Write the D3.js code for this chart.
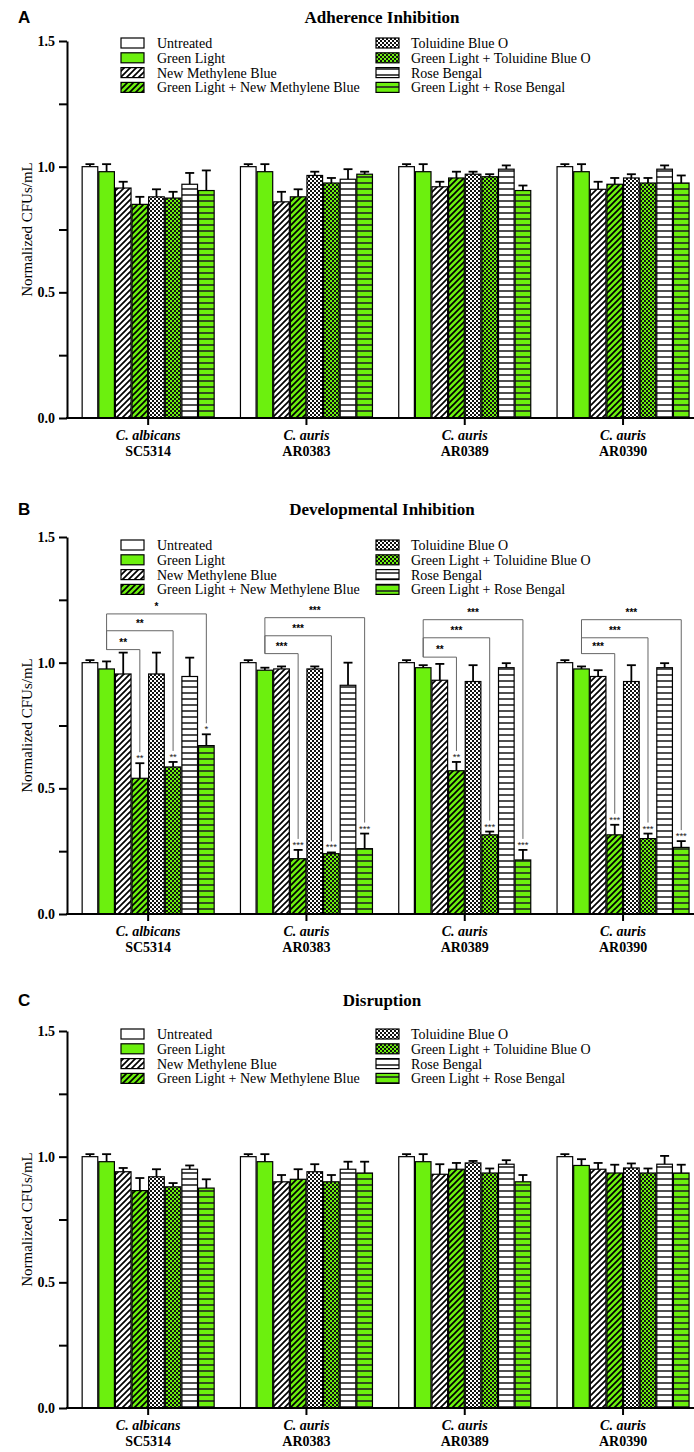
<!DOCTYPE html>
<html>
<head>
<meta charset="utf-8">
<script src="https://cdn.jsdelivr.net/npm/d3@7"></script>
<style>
  body { margin: 0; background: #fff; }
  svg { display: block; }
</style>
</head>
<body>
<svg id="chart" width="694" height="1452"></svg>
<script>
// ---- data ----
const species = ["C. albicans", "C. auris", "C. auris", "C. auris"];
const strains = ["SC5314", "AR0383", "AR0389", "AR0390"];
const treatments = [
  "Untreated", "Green Light", "New Methylene Blue", "Green Light + New Methylene Blue",
  "Toluidine Blue O", "Green Light + Toluidine Blue O", "Rose Bengal", "Green Light + Rose Bengal"
];

// normalized CFUs/mL, one row per strain, one value per treatment
const adherenceMean = [
  [1.00, 0.98, 0.915, 0.85, 0.88, 0.875, 0.93, 0.905],
  [1.00, 0.98, 0.86, 0.88, 0.965, 0.935, 0.95, 0.97],
  [1.00, 0.98, 0.92, 0.955, 0.97, 0.96, 0.99, 0.905],
  [1.00, 0.98, 0.91, 0.93, 0.955, 0.935, 0.99, 0.935]
];
const adherenceErr = [
  [0.01, 0.03, 0.025, 0.03, 0.03, 0.025, 0.045, 0.08],
  [0.01, 0.03, 0.04, 0.03, 0.015, 0.02, 0.04, 0.01],
  [0.01, 0.03, 0.02, 0.025, 0.01, 0.01, 0.015, 0.02],
  [0.01, 0.03, 0.03, 0.025, 0.015, 0.02, 0.015, 0.03]
];
const developmentalMean = [
  [1.00, 0.975, 0.955, 0.54, 0.955, 0.585, 0.945, 0.67],
  [1.00, 0.97, 0.975, 0.22, 0.975, 0.24, 0.91, 0.26],
  [1.00, 0.98, 0.93, 0.57, 0.925, 0.315, 0.98, 0.215],
  [1.00, 0.975, 0.945, 0.315, 0.925, 0.30, 0.98, 0.265]
];
const developmentalErr = [
  [0.01, 0.03, 0.085, 0.06, 0.085, 0.02, 0.075, 0.045],
  [0.01, 0.01, 0.01, 0.035, 0.01, 0.005, 0.09, 0.06],
  [0.01, 0.01, 0.065, 0.035, 0.065, 0.013, 0.018, 0.04],
  [0.01, 0.01, 0.025, 0.04, 0.065, 0.02, 0.018, 0.025]
];
const disruptionMean = [
  [1.00, 0.98, 0.94, 0.865, 0.92, 0.88, 0.95, 0.875],
  [1.00, 0.98, 0.90, 0.91, 0.94, 0.90, 0.95, 0.935],
  [1.00, 0.98, 0.93, 0.95, 0.975, 0.935, 0.97, 0.90],
  [1.00, 0.965, 0.95, 0.935, 0.955, 0.935, 0.97, 0.935]
];
const disruptionErr = [
  [0.01, 0.03, 0.015, 0.05, 0.03, 0.015, 0.015, 0.035],
  [0.01, 0.03, 0.027, 0.04, 0.03, 0.027, 0.03, 0.045],
  [0.01, 0.03, 0.04, 0.025, 0.008, 0.018, 0.016, 0.027],
  [0.01, 0.025, 0.025, 0.033, 0.018, 0.018, 0.033, 0.033]
];

// developmental panel: stars over bars (index 3, 5, 7 vs Green Light)
const sigBars = [3, 5, 7];
const barStars = [
  ["**", "**", "*"],
  ["***", "***", "***"],
  ["**", "***", "***"],
  ["***", "***", "***"]
];
// bracket labels, lowest to highest (to bar 3, 5, 7)
const bracketStars = [
  ["**", "**", "*"],
  ["***", "***", "***"],
  ["**", "***", "***"],
  ["***", "***", "***"]
];
const bracketLevels = [
  [1.052, 1.127, 1.194],
  [1.036, 1.107, 1.179],
  [1.022, 1.099, 1.171],
  [1.036, 1.099, 1.171]
];

// ---- layout ----
const green = "#6cf00e";
const serif = "'Liberation Serif', 'Times New Roman', serif";
const sans = "'Liberation Sans', Arial, sans-serif";
const axisLeftX = 67;
const plotH = 377;

const svg = d3.select("#chart");
const defs = svg.append("defs");

const looks = [
  { kind: "solid", base: "#fff" },
  { kind: "solid", base: green },
  { kind: "diag", base: "#fff" },
  { kind: "diag", base: green },
  { kind: "check", base: "#fff" },
  { kind: "check", base: green },
  { kind: "hline", base: "#fff" },
  { kind: "hline", base: green }
];

looks.forEach((l, i) => {
  if (l.kind === "solid") return;
  const p = defs.append("pattern")
    .attr("id", "pat" + i)
    .attr("patternUnits", "userSpaceOnUse");
  if (l.kind === "diag") {
    p.attr("width", 6).attr("height", 6);
    p.append("rect").attr("width", 6).attr("height", 6).attr("fill", l.base);
    p.append("path")
      .attr("d", "M-1.5,1.5 l3,-3 M0,6 l6,-6 M4.5,7.5 l3,-3")
      .attr("stroke", "#000").attr("stroke-width", 1.7);
  } else if (l.kind === "check") {
    p.attr("width", 4).attr("height", 4);
    p.append("rect").attr("width", 4).attr("height", 4).attr("fill", l.base);
    p.append("rect").attr("width", 2).attr("height", 2).attr("fill", "#111");
    p.append("rect").attr("x", 2).attr("y", 2).attr("width", 2).attr("height", 2).attr("fill", "#111");
  } else {
    p.attr("width", 6).attr("height", 6);
    p.append("rect").attr("width", 6).attr("height", 6).attr("fill", l.base);
    p.append("line").attr("x1", 0).attr("x2", 6).attr("y1", 3).attr("y2", 3)
      .attr("stroke", "#222").attr("stroke-width", 1.6);
  }
});
const fillOf = i => looks[i].kind === "solid" ? looks[i].base : `url(#pat${i})`;

const x0 = d3.scaleBand()
  .domain(d3.range(strains.length))
  .range([69, 69 + 4 * 158.3]);
const groupW = 132;
const x1 = d3.scaleBand()
  .domain(d3.range(treatments.length))
  .range([0, groupW])
  .paddingInner(0.06);
const barX = (g, s) => x0(g) + (x0.bandwidth() - groupW) / 2 + x1(s);
const barC = (g, s) => barX(g, s) + x1.bandwidth() / 2;

const panels = [
  { letter: "A", title: "Adherence Inhibition", top: 41, titleY: 17, mean: adherenceMean, err: adherenceErr, legendY: 43 },
  { letter: "B", title: "Developmental Inhibition", top: 537, titleY: 509, mean: developmentalMean, err: developmentalErr, legendY: 545, sig: true },
  { letter: "C", title: "Disruption", top: 1031, titleY: 1000, mean: disruptionMean, err: disruptionErr, legendY: 1034 }
];

panels.forEach(pn => {
  const y = d3.scaleLinear().domain([0, 1.5]).range([pn.top + plotH, pn.top]);
  const g = svg.append("g");

  // letter + title
  g.append("text").attr("x", 18).attr("y", pn.titleY).attr("dy", "0.35em")
    .attr("font-family", sans).attr("font-weight", "bold").attr("font-size", 17)
    .text(pn.letter);
  g.append("text").attr("x", 382).attr("y", pn.titleY).attr("dy", "0.35em")
    .attr("text-anchor", "middle")
    .attr("font-family", serif).attr("font-weight", "bold").attr("font-size", 17)
    .text(pn.title);

  // legend
  const leg = g.append("g");
  treatments.forEach((t, i) => {
    const col = Math.floor(i / 4), row = i % 4;
    const sx = col === 0 ? 121 : 376;
    const tx = col === 0 ? 157 : 411;
    const cy = pn.legendY + row * 14.8;
    leg.append("rect").attr("x", sx).attr("y", cy - 5).attr("width", 23).attr("height", 10)
      .attr("fill", fillOf(i)).attr("stroke", "#000").attr("stroke-width", 1.2);
    leg.append("text").attr("x", tx).attr("y", cy).attr("dy", "0.35em")
      .attr("font-family", serif).attr("font-size", 14).text(t);
  });

  // bars
  const bars = g.append("g");
  pn.mean.forEach((row, gi) => {
    row.forEach((v, si) => {
      const cx = barC(gi, si);
      const top = y(v + pn.err[gi][si]);
      bars.append("line").attr("x1", cx).attr("x2", cx).attr("y1", y(v)).attr("y2", top)
        .attr("stroke", "#000").attr("stroke-width", 1.8);
      bars.append("line").attr("x1", cx - 4.5).attr("x2", cx + 4.5).attr("y1", top).attr("y2", top)
        .attr("stroke", "#000").attr("stroke-width", 1.8);
      bars.append("rect")
        .attr("x", barX(gi, si)).attr("y", y(v))
        .attr("width", x1.bandwidth()).attr("height", y(0) - y(v))
        .attr("fill", fillOf(si)).attr("stroke", "#000").attr("stroke-width", 1.2);
    });
  });

  // significance marks
  if (pn.sig) {
    const ann = g.append("g");
    pn.mean.forEach((row, gi) => {
      const xl = barC(gi, 1);
      const yLow = y(bracketLevels[gi][0]);
      sigBars.forEach((si, k) => {
        const cx = barC(gi, si);
        const capY = y(row[si] + pn.err[gi][si]);
        ann.append("text").attr("x", cx).attr("y", capY - 2)
          .attr("text-anchor", "middle")
          .attr("font-family", sans).attr("font-size", 9.5).attr("fill", "#222")
          .text(barStars[gi][k]);
        const ly = y(bracketLevels[gi][k]);
        ann.append("path")
          .attr("d", `M${xl},${yLow} L${xl},${ly} L${cx},${ly} L${cx},${capY - 11}`)
          .attr("fill", "none").attr("stroke", "#666").attr("stroke-width", 1);
        ann.append("text").attr("x", (xl + cx) / 2).attr("y", ly - 4)
          .attr("text-anchor", "middle")
          .attr("font-family", sans).attr("font-weight", "bold").attr("font-size", 10)
          .text(bracketStars[gi][k]);
      });
    });
  }

  // y axis
  const ya = g.append("g").attr("transform", `translate(${axisLeftX},0)`)
    .call(d3.axisLeft(y)
      .tickValues(d3.range(0, 1.51, 0.25))
      .tickSize(8).tickSizeOuter(0).tickPadding(4)
      .tickFormat(d => (d * 2) % 1 === 0 ? d.toFixed(1) : ""));
  ya.select(".domain").attr("stroke-width", 2);
  ya.selectAll(".tick line").attr("stroke-width", 2);
  ya.selectAll(".tick text")
    .attr("font-family", serif).attr("font-weight", "bold").attr("font-size", 14).attr("fill", "#000");

  g.append("text")
    .attr("transform", `translate(27,${pn.top + plotH / 2}) rotate(-90)`)
    .attr("text-anchor", "middle").attr("dy", "0.35em")
    .attr("font-family", serif).attr("font-size", 15)
    .text("Normalized CFUs/mL");

  // x axis
  const base = y(0);
  const xa = g.append("g").attr("transform", `translate(0,${base})`)
    .call(d3.axisBottom(x0).tickSize(7).tickSizeOuter(0).tickFormat(""));
  xa.select(".domain").remove();
  xa.selectAll(".tick line").attr("stroke-width", 2);
  g.append("line").attr("x1", axisLeftX - 1).attr("x2", 694).attr("y1", base).attr("y2", base)
    .attr("stroke", "#000").attr("stroke-width", 2);

  strains.forEach((s, gi) => {
    const cx = x0(gi) + x0.bandwidth() / 2;
    const t = g.append("text").attr("x", cx).attr("y", base + 17).attr("dy", "0.35em")
      .attr("text-anchor", "middle").attr("font-family", serif)
      .attr("font-weight", "bold").attr("font-size", 14);
    t.append("tspan").attr("font-style", "italic").text(species[gi]);
    t.append("tspan").attr("x", cx).attr("dy", 16.5).text(s);
  });
});
</script>
</body>
</html>
